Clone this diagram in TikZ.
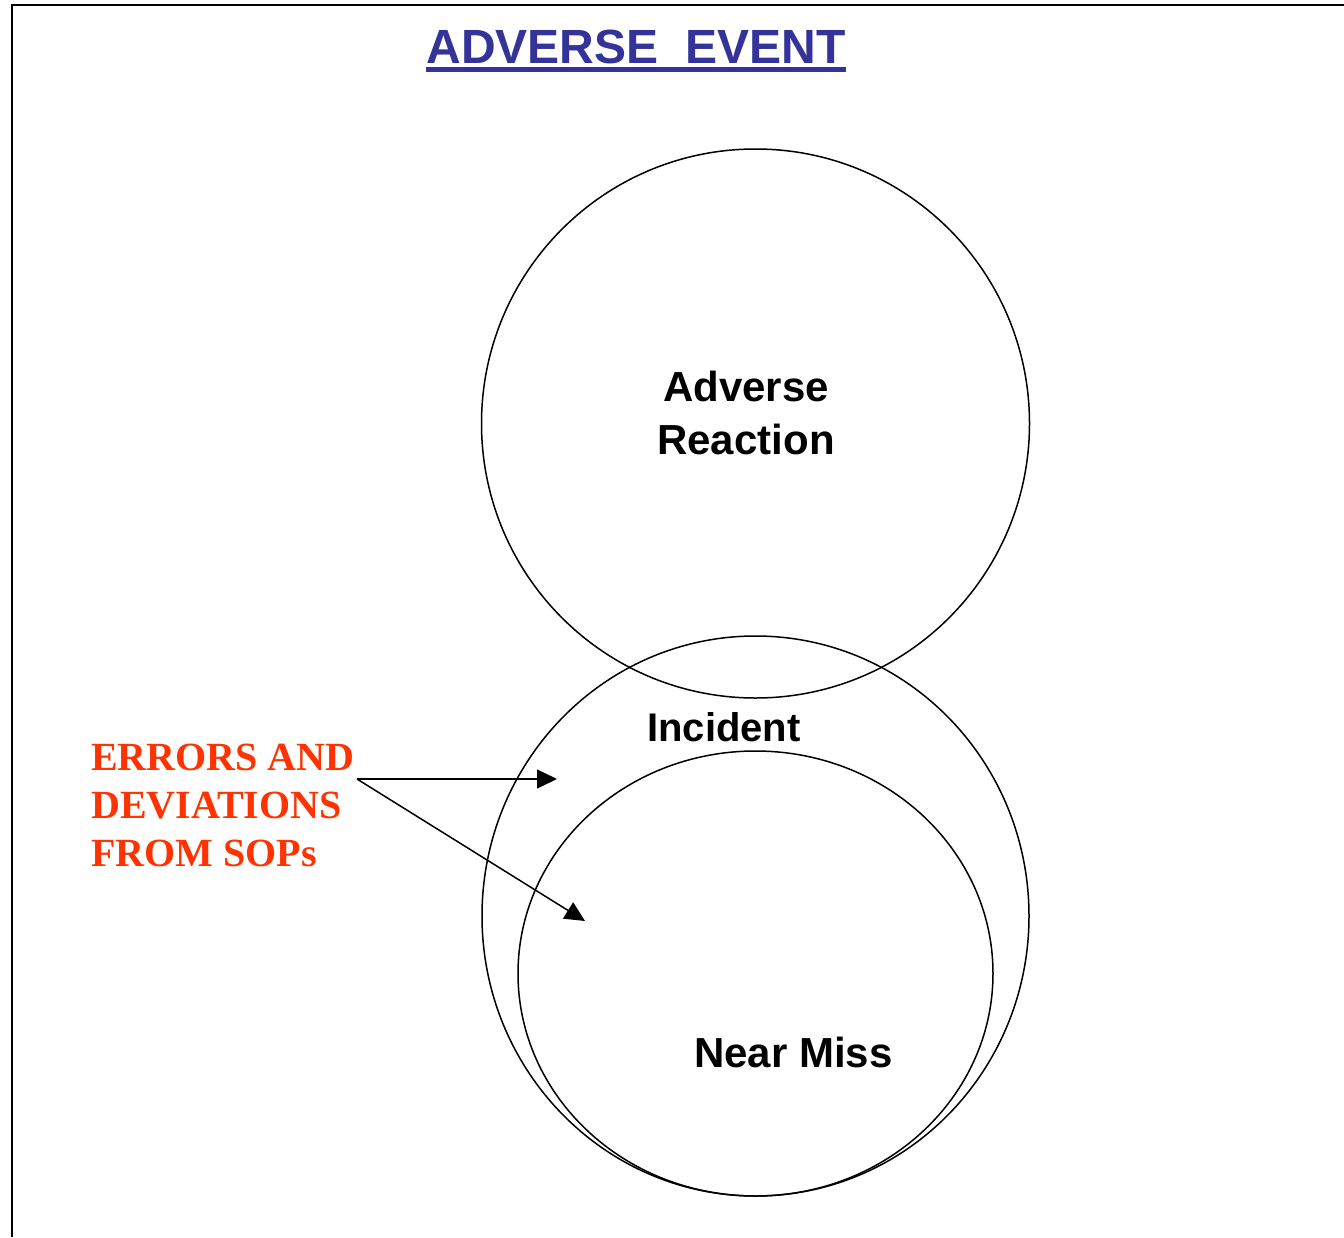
\documentclass[tikz,border=0pt]{standalone}
\usepackage{fontspec}
\setmainfont{Liberation Sans}
\newfontfamily\timesfont{Liberation Serif}
\usetikzlibrary{arrows.meta,shapes.geometric}
\definecolor{titleblue}{HTML}{333399}
\definecolor{errred}{HTML}{FF3300}
\begin{document}
\begin{tikzpicture}[x=1pt,y=-1pt,
  blob/.style={draw,ellipse,line width=1.5pt,inner sep=0pt},
  lbl/.style={inner sep=0pt,anchor=base,font=\bfseries\fontsize{42}{50}\selectfont},
  errtxt/.style={inner sep=0pt,anchor=base west,text=errred,font=\timesfont\bfseries\fontsize{40}{48}\selectfont},
  arr/.style={line width=1.5pt,-{Triangle[length=20pt,width=19pt]}}]
\useasboundingbox (0,0) rectangle (1344,1237);
% frame
\draw[line width=2.2pt] (1344,5) -- (12,5) -- (12,1237);
% title
\node[inner sep=0pt,anchor=base,text=titleblue,font=\bfseries\fontsize{48}{56}\selectfont] (title) at (636,63) {ADVERSE\ \ EVENT};
\draw[titleblue,line width=5pt] ([yshift=-6.5pt]title.base west) -- ([yshift=-6.5pt]title.base east);
% circles
\node[blob,minimum width=548pt,minimum height=549pt] (reaction) at (755.5,423.5) {};
\node[blob,minimum width=547pt,minimum height=560pt] (incident) at (755.5,916) {};
\node[blob,minimum width=475pt,minimum height=445pt] (nearmiss) at (755.5,973.5) {};
% labels
\node[lbl] (ar1) at (746,401) {Adverse};
\node[lbl] (ar2) at (746,454) {Reaction};
\node[lbl,font=\bfseries\fontsize{40}{48}\selectfont] (inc) at (724,741) {Incident};
\node[lbl] (nm) at (793.5,1067) {Near Miss};
% errors text
\node[errtxt] (e1) at (91,770) {ERRORS AND};
\node[errtxt] (e2) at (91,818) {DEVIATIONS};
\node[errtxt] (e3) at (91,866) {FROM SOPs};
\coordinate (src) at (357,779);
\coordinate (t1) at (557,779);
\coordinate (t2) at (585,921);
\draw[arr] (src) -- (t1);
\draw[arr] (src) -- (t2);
\end{tikzpicture}
\end{document}
